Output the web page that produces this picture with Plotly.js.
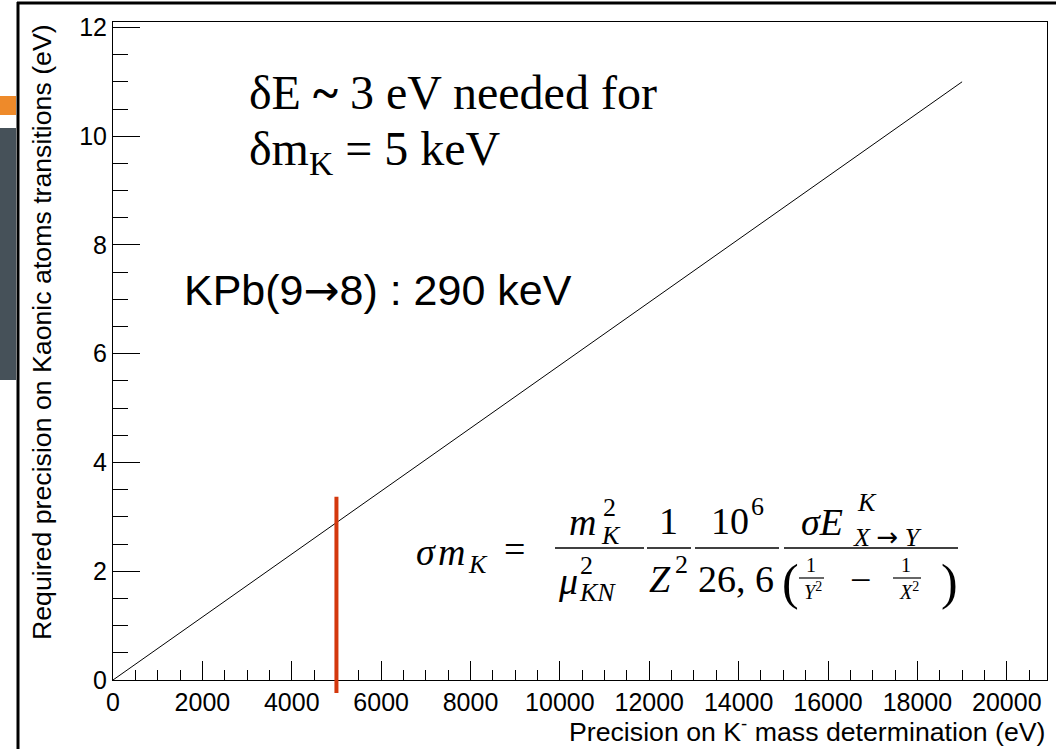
<!DOCTYPE html>
<html>
<head>
<meta charset="utf-8">
<script src="https://cdn.plot.ly/plotly-3.0.1.min.js"></script>
<style>html,body{margin:0;padding:0;background:#fff;}#chart{width:1056px;height:749px;}</style>
</head>
<body>
<div id="chart"></div>
<script>
// ---- data ----
const lineX = [0, 19000];
const lineY = [0, 11];
const markerX = [5000, 5000];
const markerY = [-0.24, 3.37];
const xRange = [0, 20900];
const yRange = [0, 12.1];
const xTickStep = 2000;
const yTickStep = 2;
const xTitle = 'Precision on K<sup>-</sup> mass determination (eV)';
const yTitle = 'Required precision on Kaonic atoms transitions (eV)';
const note1 = 'δE <b>~</b> 3 eV needed for';
const note2 = 'δm<sub>K</sub> = 5 keV';
const note3 = 'KPb(9<span style="font-family:DejaVu Sans">→</span>8) : 290 keV';

// ---- layout helpers (pixel -> paper) ----
const W = 1056, H = 749;
const L = 113, R = 9, T = 22, B = 69;
const PW = W - L - R, PH = H - T - B;
const px = x => (x - L) / PW;
const py = y => (H - B - y) / PH;

const sans = 'Liberation Sans, Arial, Helvetica, sans-serif';
const serif = 'Liberation Serif, Times New Roman, serif';

const annotations = [];
function txt(text, x, y, size, opts) {
  opts = opts || {};
  annotations.push(Object.assign({
    text: text, xref: 'paper', yref: 'paper', x: px(x), y: py(y),
    xanchor: opts.xa || 'center', yanchor: opts.ya || 'middle',
    showarrow: false, borderpad: 0,
    font: {family: opts.family || serif, size: size, color: '#000'}
  }, opts.extra || {}));
}

// axis titles (ROOT style, right aligned)
annotations.push({text: xTitle, xref: 'paper', yref: 'paper', x: 1, y: 0, xanchor: 'right', yanchor: 'middle',
  yshift: -50, showarrow: false, font: {family: sans, size: 26.7, color: '#000'}});
annotations.push({text: yTitle, xref: 'paper', yref: 'paper', x: px(42), y: 1, xanchor: 'center', yanchor: 'top',
  textangle: -90, showarrow: false, font: {family: sans, size: 26.7, color: '#000'}});

// notes
txt(note1, 248, 92, 48, {xa: 'left'});
txt(note2, 248, 152, 48, {xa: 'left'});
txt(note3, 183, 290, 43, {xa: 'left', family: sans});

// formula
const fs = 38, fsm = 26, fss = 20;
const arrow = '<span style="font-family:DejaVu Sans">→</span>';
txt('<i>σ</i>', 415, 552, fs, {xa: 'left'});
txt('<i>m</i>', 437, 552, fs, {xa: 'left'});
txt('<i>K</i>', 467, 564, fsm, {xa: 'left'});
txt('=', 514, 549, fs);
// frac 1
txt('<i>m</i>', 568, 522, fs, {xa: 'left'});
txt('2', 602, 507, fsm, {xa: 'left'});
txt('<i>K</i>', 600, 535, fsm, {xa: 'left'});
txt('<i>μ</i>', 557, 581, fs, {xa: 'left'});
txt('2', 579, 565, fsm, {xa: 'left'});
txt('<i>KN</i>', 578, 592, fsm, {xa: 'left'});
// frac 2
txt('1', 668, 521, fs);
txt('<i>Z</i>', 648, 579, fs, {xa: 'left'});
txt('2', 674, 564, fsm, {xa: 'left'});
// frac 3
txt('10', 710, 521, fs, {xa: 'left'});
txt('6', 750, 506, fsm, {xa: 'left'});
txt('26, 6', 736, 579, fs);
// frac 4
txt('<i>σE</i>', 800, 522, fs, {xa: 'left'});
txt('<i>K</i>', 856, 503, fsm, {xa: 'left'});
txt('<i>X</i> ' + arrow + ' <i>Y</i>', 852, 537, fsm, {xa: 'left'});
txt('(', 781, 582, 50, {xa: 'left'});
txt('1', 811, 565, fss);
txt('<i>Y</i><sup>2</sup>', 813, 591, fss);
txt('−', 860, 580, fs);
txt('1', 906, 565, fss);
txt('<i>X</i><sup>2</sup>', 909, 591, fss);
txt(')', 959, 582, 50, {xa: 'right'});

const shapes = [];
function hline(x0, x1, y, w, color) {
  shapes.push({type: 'line', xref: 'paper', yref: 'paper', x0: px(x0), x1: px(x1), y0: py(y), y1: py(y),
    line: {color: color || '#000', width: w || 1.6}});
}
hline(555, 644, 548);
hline(647, 691, 548);
hline(695, 779, 548);
hline(784, 958, 548);
hline(799, 824, 578, 1.2);
hline(893, 921, 578, 1.2);

// red marker line, in data units (x) and y converted through the axis range
const yToPaper = v => (v - yRange[0]) / (yRange[1] - yRange[0]);
shapes.push({type: 'line', xref: 'x', yref: 'paper', x0: markerX[0], x1: markerX[1],
  y0: yToPaper(markerY[0]), y1: yToPaper(markerY[1]), layer: 'above',
  line: {color: '#d4380d', width: 4}});

// slide decorations outside the frame
shapes.push({type: 'rect', xref: 'paper', yref: 'paper', x0: px(0), x1: px(16), y0: py(96), y1: py(115),
  fillcolor: '#ee8a2a', line: {width: 0}});
shapes.push({type: 'rect', xref: 'paper', yref: 'paper', x0: px(0), x1: px(16), y0: py(128), y1: py(380),
  fillcolor: '#465159', line: {width: 0}});
shapes.push({type: 'line', xref: 'paper', yref: 'paper', x0: px(18), x1: px(18), y0: py(2), y1: py(749),
  line: {color: '#000', width: 3}});
shapes.push({type: 'line', xref: 'paper', yref: 'paper', x0: px(17), x1: px(1056), y0: py(3), y1: py(3),
  line: {color: '#000', width: 3}});

const traces = [{
  x: lineX, y: lineY, type: 'scatter', mode: 'lines',
  line: {color: '#000', width: 1}, hoverinfo: 'skip', showlegend: false
}];

const layout = {
  width: W, height: H,
  margin: {l: L, r: R, t: T, b: B},
  paper_bgcolor: '#fff', plot_bgcolor: '#fff',
  showlegend: false,
  font: {family: sans, color: '#000'},
  xaxis: {
    range: xRange, tick0: 0, dtick: xTickStep, ticks: 'inside', ticklen: 19, tickwidth: 1, tickcolor: '#000',
    minor: {dtick: 500, ticks: 'inside', ticklen: 10, tickwidth: 1, tickcolor: '#000'},
    showline: true, linecolor: '#000', linewidth: 1, mirror: true,
    showgrid: false, zeroline: false, tickfont: {family: sans, size: 25, color: '#000'},
    tickformat: 'd'
  },
  yaxis: {
    range: yRange, tick0: 0, dtick: yTickStep, ticks: 'inside', ticklen: 27, tickwidth: 1, tickcolor: '#000',
    minor: {dtick: 0.5, ticks: 'inside', ticklen: 15, tickwidth: 1, tickcolor: '#000'},
    showline: true, linecolor: '#000', linewidth: 1, mirror: true,
    showgrid: false, zeroline: false, tickfont: {family: sans, size: 25, color: '#000'}
  },
  annotations: annotations,
  shapes: shapes
};

Plotly.newPlot('chart', traces, layout, {displayModeBar: false, staticPlot: true});
</script>
</body>
</html>
